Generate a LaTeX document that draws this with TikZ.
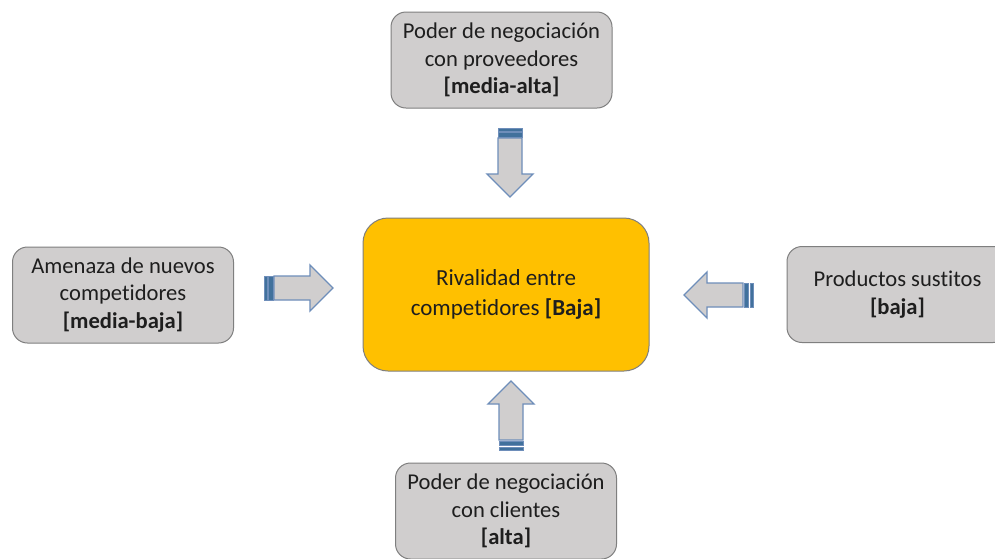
\documentclass[tikz,border=0pt]{standalone}
\usepackage{fontspec}
\setmainfont[Ligatures=NoCommon]{Carlito}
\definecolor{boxgray}{HTML}{D0CECE}
\definecolor{boxline}{HTML}{7F7F7F}
\definecolor{gold}{HTML}{FFC000}
\definecolor{arrline}{HTML}{6E8EBA}
\definecolor{stripeblue}{HTML}{41719C}
\definecolor{txt}{HTML}{1E1E1E}
\tikzset{
  graybox/.style={draw=boxline, line width=1pt, fill=boxgray, rounded corners=15pt,
    minimum width=221pt, minimum height=96pt, align=center, text=txt,
    font=\fontsize{22.6}{27.5}\selectfont, inner sep=0pt},
  mainbox/.style={draw=boxline, line width=1pt, fill=gold, rounded corners=25pt,
    minimum width=286pt, minimum height=153pt, align=center, text=txt,
    font=\fontsize{23}{30}\selectfont, inner sep=0pt},
  arrbody/.style={draw=arrline, line width=1.3pt, fill=boxgray, line join=miter},
  arrstripe/.style={draw=arrline, line width=0.8pt, fill=stripeblue},
  stripedarrow/.pic={
    \path[arrbody] (10,-12) -- (46,-12) -- (46,-23) -- (69,0) -- (46,23) -- (46,12) -- (10,12) -- cycle;
    \path[arrstripe] (0,-12) rectangle (3,12);
    \path[arrstripe] (4.5,-12) rectangle (9,12);
  }
}
\begin{document}
\begin{tikzpicture}[x=1pt,y=-1pt]
\useasboundingbox (0,0) rectangle (995,558);
\clip (0,0) rectangle (995,558);
\fill[white] (0,0) rectangle (995,558);
\node[graybox] (prov) at (501.5,60) {Poder de negociación\\con proveedores\\\textbf{[media-alta]}};
\node[graybox] (nuevos) at (123,295) {Amenaza de nuevos\\competidores\\\textbf{[media-baja]}};
\node[graybox] (sust) at (897.5,294.5) {Productos sustitos\\\textbf{[baja]}};
\node[graybox] (cli) at (506,511) {Poder de negociación\\con clientes\\\textbf{[alta]}};
\node[mainbox] (riv) at (506,294.5) {Rivalidad entre\\competidores \textbf{[Baja]}};
\pic at (510,128) [rotate=-90] {stripedarrow};
\pic at (264,288) {stripedarrow};
\pic at (753,295) [rotate=180] {stripedarrow};
\pic at (511,450) [rotate=90] {stripedarrow};
\end{tikzpicture}
\end{document}
